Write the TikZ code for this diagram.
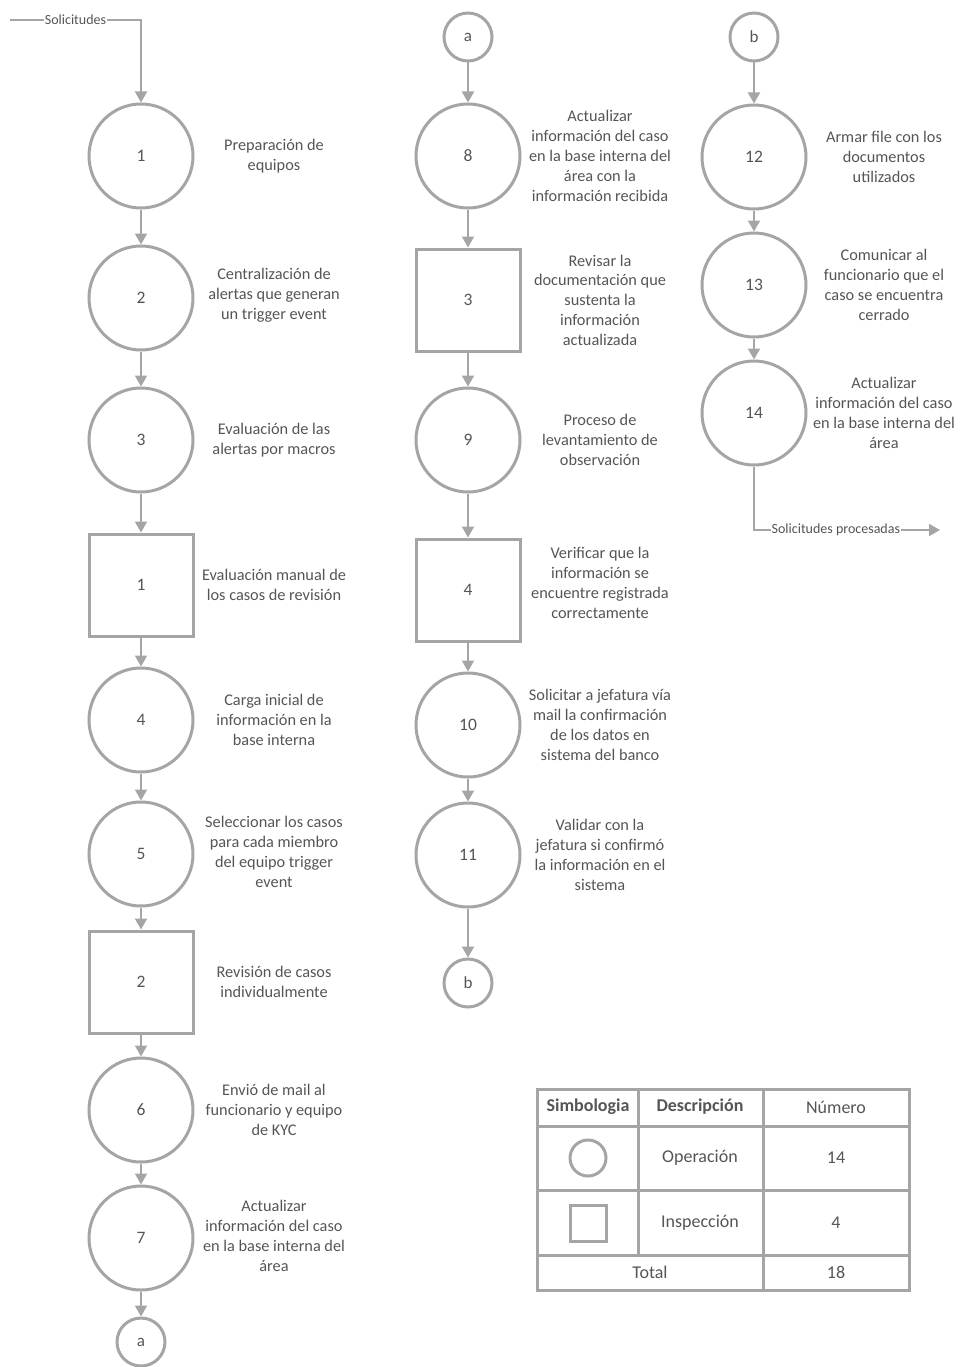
\documentclass[tikz,border=0pt]{standalone}
\usepackage{fontspec}
\setmainfont{Carlito}
\usetikzlibrary{shapes, arrows.meta, positioning}
\definecolor{linegray}{RGB}{165,165,165}
\definecolor{textgray}{RGB}{85,85,85}
\tikzstyle{op} = [circle, minimum size = 104, inner sep = 0, draw =
  linegray, line width = 3, text = textgray, font = \fontsize{17.5}{20}\selectfont]
\tikzstyle{insp} = [
  rectangle, minimum width = 104, minimum height = 102, inner sep = 0,
  draw = linegray, line width = 3, text = textgray,
  font = \fontsize{17.5}{20}\selectfont
]
\tikzstyle{link} = [circle, minimum size = 48, inner sep = 0, draw =
  linegray, line width = 3, text = textgray, font = \fontsize{17}{20}\selectfont]
\tikzstyle{desc} = [align = center, text = textgray, inner sep = 0,
  font = \fontsize{16.3}{19.8}\selectfont]
\tikzstyle{flow} = [draw = linegray, line width = 2,
  -{Triangle[width = 12, length = 11]}]
\tikzstyle{lbl} = [fill = white, inner sep = 1, text = textgray,
  font = \fontsize{14}{16}\selectfont]
\tikzstyle{tbl} = [draw = linegray, line width = 3]
\tikzstyle{cell} = [text = textgray, font = \fontsize{18}{20}\selectfont]

\begin{document}
\begin{tikzpicture}[x = 1pt, y = -1pt, node distance = 0]
      \useasboundingbox (0, 0) rectangle (959, 1367);
      % column 1
      \node [op] (op-1) at (141, 156) {1};
      \node [op] (op-2) at (141, 298) {2};
      \node [op] (op-3) at (141, 440) {3};
      \node [insp] (insp-1) at (141, 585) {1};
      \node [op] (op-4) at (141, 720) {4};
      \node [op] (op-5) at (141, 854) {5};
      \node [insp] (insp-2) at (141, 982) {2};
      \node [op] (op-6) at (141, 1110) {6};
      \node [op] (op-7) at (141, 1238) {7};
      \node [link] (link-a-out) at (141, 1342) {a};
      % column 2
      \node [link] (link-a-in) at (468, 37) {a};
      \node [op] (op-8) at (468, 156) {8};
      \node [insp] (insp-3) at (468, 300) {3};
      \node [op] (op-9) at (468, 440) {9};
      \node [insp] (insp-4) at (468, 590) {4};
      \node [op] (op-10) at (468, 725) {10};
      \node [op] (op-11) at (468, 855) {11};
      \node [link] (link-b-out) at (468, 983) {b};
      % column 3
      \node [link] (link-b-in) at (754, 37) {b};
      \node [op] (op-12) at (754, 157) {12};
      \node [op] (op-13) at (754, 285) {13};
      \node [op] (op-14) at (754, 413) {14};

      % descriptions 1
      \node [desc, right of = op-1, xshift = 133] (desc-op-1)
        {Preparación de\\equipos};
      \node [desc, right of = op-2, xshift = 133, yshift = 3] (desc-op-2)
        {Centralización de\\alertas que generan\\un trigger event};
      \node [desc, right of = op-3, xshift = 133] (desc-op-3)
        {Evaluación de las\\alertas por macros};
      \node [desc, right of = insp-1, xshift = 133] (desc-insp-1)
        {Evaluación manual de\\los casos de revisión};
      \node [desc, right of = op-4, xshift = 133] (desc-op-4)
        {Carga inicial de\\información en la\\base interna};
      \node [desc, right of = op-5, xshift = 133, yshift = 2] (desc-op-5)
        {Seleccionar los casos\\para cada miembro\\del equipo trigger\\event};
      \node [desc, right of = insp-2, xshift = 133] (desc-insp-2)
        {Revisión de casos\\individualmente};
      \node [desc, right of = op-6, xshift = 133] (desc-op-6)
        {Envió de mail al\\funcionario y equipo\\de KYC};
      \node [desc, right of = op-7, xshift = 133, yshift = 2] (desc-op-7)
        {Actualizar\\información del caso\\en la base interna del\\área};
      % descriptions 2
      \node [desc, right of = op-8, xshift = 132] (desc-op-8)
        {Actualizar\\información del caso\\en la base interna del\\área con la\\información recibida};
      \node [desc, right of = insp-3, xshift = 132] (desc-insp-3)
        {Revisar la\\documentación que\\sustenta la\\información\\actualizada};
      \node [desc, right of = op-9, xshift = 132] (desc-op-9)
        {Proceso de\\levantamiento de\\observación};
      \node [desc, right of = insp-4, xshift = 132, yshift = 7] (desc-insp-4)
        {Verificar que la\\información se\\encuentre registrada\\correctamente};
      \node [desc, right of = op-10, xshift = 132] (desc-op-10)
        {Solicitar a jefatura vía\\mail la confirmación\\de los datos en\\sistema del banco};
      \node [desc, right of = op-11, xshift = 132] (desc-op-11)
        {Validar con la\\jefatura si confirmó\\la información en el\\sistema};
      % descriptions 3
      \node [desc, right of = op-12, xshift = 130] (desc-op-12)
        {Armar file con los\\documentos\\utilizados};
      \node [desc, right of = op-13, xshift = 130] (desc-op-13)
        {Comunicar al\\funcionario que el\\caso se encuentra\\cerrado};
      \node [desc, right of = op-14, xshift = 130] (desc-op-14)
        {Actualizar\\información del caso\\en la base interna del\\área};

      % entry and exit
      \coordinate (in-start) at (10, 20);
      \coordinate (in-bend) at (141, 20);
      \coordinate (out-bend) at (754, 530);
      \coordinate (out-end) at (940, 530);
      \draw [flow] (in-start) -- node [lbl] (lbl-in) {Solicitudes} (in-bend)
        -- (op-1);
      \draw [flow] (op-14) -- (out-bend)
        -- node [lbl, pos = 0.44] (lbl-out) {Solicitudes procesadas} (out-end);

      % column 1
      \draw [flow] (op-1) -- (op-2);
      \draw [flow] (op-2) -- (op-3);
      \draw [flow] (op-3) -- (insp-1);
      \draw [flow] (insp-1) -- (op-4);
      \draw [flow] (op-4) -- (op-5);
      \draw [flow] (op-5) -- (insp-2);
      \draw [flow] (insp-2) -- (op-6);
      \draw [flow] (op-6) -- (op-7);
      \draw [flow] (op-7) -- (link-a-out);
      % column 2
      \draw [flow] (link-a-in) -- (op-8);
      \draw [flow] (op-8) -- (insp-3);
      \draw [flow] (insp-3) -- (op-9);
      \draw [flow] (op-9) -- (insp-4);
      \draw [flow] (insp-4) -- (op-10);
      \draw [flow] (op-10) -- (op-11);
      \draw [flow] (op-11) -- (link-b-out);
      % column 3
      \draw [flow] (link-b-in) -- (op-12);
      \draw [flow] (op-12) -- (op-13);
      \draw [flow] (op-13) -- (op-14);

      % table
      \draw [tbl] (537, 1089) rectangle (909, 1290);
      \draw [tbl] (537, 1126) -- (909, 1126);
      \draw [tbl] (537, 1190) -- (909, 1190);
      \draw [tbl] (537, 1255) -- (909, 1255);
      \draw [tbl] (638, 1089) -- (638, 1255);
      \draw [tbl] (763, 1089) -- (763, 1290);
      \node [cell, font = \fontsize{18}{20}\selectfont\bfseries] (head-sym)
        at (588, 1107) {Simbologia};
      \node [cell, font = \fontsize{18}{20}\selectfont\bfseries] (head-desc)
        at (700, 1107) {Descripción};
      \node [cell] (head-num) at (836, 1107) {Número};
      \node [circle, minimum size = 36, draw = linegray, line width = 3]
        (sym-op) at (588, 1158) {};
      \node [cell] (desc-op) at (700, 1158) {Operación};
      \node [cell] (num-op) at (836, 1158) {14};
      \node [rectangle, minimum size = 36, draw = linegray, line width = 3]
        (sym-insp) at (588, 1223) {};
      \node [cell] (desc-insp) at (700, 1223) {Inspección};
      \node [cell] (num-insp) at (836, 1223) {4};
      \node [cell] (total) at (650, 1272) {Total};
      \node [cell] (num-total) at (836, 1272) {18};
    \end{tikzpicture}
\end{document}
